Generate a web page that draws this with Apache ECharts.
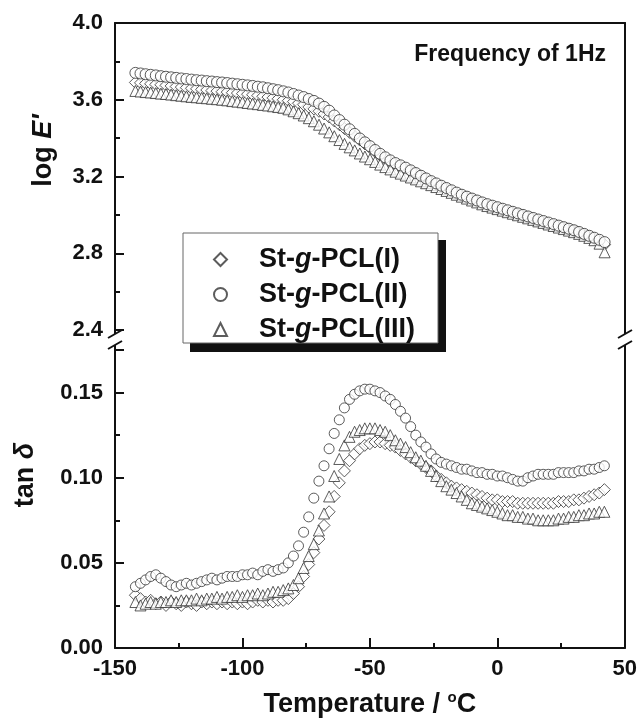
<!DOCTYPE html>
<html>
<head>
<meta charset="utf-8">
<script src="https://cdn.jsdelivr.net/npm/echarts@6/dist/echarts.min.js"></script>
<style>
html, body { margin: 0; padding: 0; background: #fff; }
#chart { width: 640px; height: 720px; }
</style>
</head>
<body>
<div id="chart"></div>
<script>
// temperature (°C), shared by every series
const temps = [
  -142, -140, -138, -136, -134, -132, -130, -128, -126, -124,
  -122, -120, -118, -116, -114, -112, -110, -108, -106, -104,
  -102, -100, -98, -96, -94, -92, -90, -88, -86, -84,
  -82, -80, -78, -76, -74, -72, -70, -68, -66, -64,
  -62, -60, -58, -56, -54, -52, -50, -48, -46, -44,
  -42, -40, -38, -36, -34, -32, -30, -28, -26, -24,
  -22, -20, -18, -16, -14, -12, -10, -8, -6, -4,
  -2, 0, 2, 4, 6, 8, 10, 12, 14, 16,
  18, 20, 22, 24, 26, 28, 30, 32, 34, 36,
  38, 40, 42
]

const names = ['St-g-PCL(I)', 'St-g-PCL(II)', 'St-g-PCL(III)']

// log E'
const logE1 = [
  3.690, 3.688, 3.685, 3.683, 3.680, 3.678, 3.675, 3.672, 3.669, 3.666,
  3.663, 3.660, 3.657, 3.654, 3.651, 3.648, 3.645, 3.642, 3.640, 3.637,
  3.635, 3.632, 3.629, 3.626, 3.622, 3.618, 3.614, 3.610, 3.605, 3.600,
  3.595, 3.590, 3.582, 3.574, 3.562, 3.552, 3.540, 3.526, 3.510, 3.490,
  3.470, 3.450, 3.430, 3.410, 3.390, 3.370, 3.350, 3.330, 3.310, 3.292,
  3.276, 3.262, 3.250, 3.238, 3.226, 3.213, 3.199, 3.185, 3.171, 3.159,
  3.147, 3.135, 3.123, 3.111, 3.100, 3.090, 3.080, 3.070, 3.060, 3.051,
  3.043, 3.035, 3.027, 3.019, 3.011, 3.003, 2.995, 2.987, 2.979, 2.971,
  2.963, 2.955, 2.947, 2.939, 2.931, 2.923, 2.915, 2.906, 2.896, 2.886,
  2.876, 2.864, 2.845
]
const logE2 = [
  3.740, 3.737, 3.733, 3.730, 3.727, 3.723, 3.720, 3.717, 3.714, 3.711,
  3.708, 3.705, 3.702, 3.700, 3.697, 3.695, 3.692, 3.690, 3.687, 3.684,
  3.681, 3.678, 3.675, 3.672, 3.668, 3.665, 3.660, 3.655, 3.650, 3.644,
  3.638, 3.630, 3.622, 3.614, 3.604, 3.594, 3.580, 3.563, 3.543, 3.518,
  3.494, 3.470, 3.446, 3.422, 3.398, 3.378, 3.358, 3.338, 3.318, 3.300,
  3.284, 3.270, 3.258, 3.246, 3.232, 3.218, 3.204, 3.190, 3.176, 3.164,
  3.152, 3.140, 3.128, 3.116, 3.105, 3.095, 3.085, 3.075, 3.065, 3.056,
  3.048, 3.040, 3.032, 3.024, 3.016, 3.008, 3.000, 2.992, 2.984, 2.976,
  2.968, 2.960, 2.952, 2.944, 2.936, 2.928, 2.920, 2.911, 2.901, 2.891,
  2.881, 2.870, 2.858
]
const logE3 = [
  3.646, 3.643, 3.640, 3.638, 3.635, 3.632, 3.630, 3.627, 3.624, 3.621,
  3.618, 3.615, 3.613, 3.610, 3.608, 3.605, 3.603, 3.600, 3.597, 3.593,
  3.590, 3.587, 3.583, 3.580, 3.577, 3.573, 3.570, 3.566, 3.562, 3.558,
  3.550, 3.540, 3.530, 3.518, 3.504, 3.488, 3.470, 3.450, 3.430, 3.410,
  3.390, 3.370, 3.352, 3.336, 3.320, 3.304, 3.290, 3.276, 3.262, 3.249,
  3.237, 3.225, 3.215, 3.205, 3.195, 3.185, 3.175, 3.165, 3.155, 3.145,
  3.135, 3.125, 3.115, 3.105, 3.095, 3.085, 3.075, 3.065, 3.055, 3.046,
  3.038, 3.030, 3.022, 3.014, 3.006, 2.998, 2.990, 2.982, 2.974, 2.966,
  2.958, 2.950, 2.942, 2.934, 2.926, 2.918, 2.910, 2.901, 2.891, 2.880,
  2.868, 2.850, 2.805
]

// tan delta
const tan1 = [
  0.031, 0.029, 0.027, 0.028, 0.026, 0.027, 0.025, 0.027, 0.026, 0.025,
  0.027, 0.026, 0.025, 0.027, 0.026, 0.027, 0.026, 0.027, 0.026, 0.027,
  0.026, 0.027, 0.026, 0.027, 0.028, 0.027, 0.028, 0.027, 0.028, 0.028,
  0.029, 0.032, 0.036, 0.042, 0.049, 0.056, 0.064, 0.072, 0.080, 0.089,
  0.097, 0.104, 0.110, 0.114, 0.117, 0.119, 0.120, 0.121, 0.121, 0.120,
  0.119, 0.118, 0.116, 0.114, 0.112, 0.110, 0.108, 0.106, 0.104, 0.101,
  0.099, 0.097, 0.095, 0.094, 0.093, 0.092, 0.091, 0.090, 0.089, 0.088,
  0.087, 0.087, 0.086, 0.086, 0.086, 0.085, 0.085, 0.085, 0.085, 0.085,
  0.085, 0.085, 0.085, 0.086, 0.086, 0.086, 0.087, 0.087, 0.088, 0.089,
  0.090, 0.091, 0.093
]
const tan2 = [
  0.036, 0.038, 0.040, 0.042, 0.043, 0.041, 0.039, 0.037, 0.036, 0.037,
  0.038, 0.037, 0.038, 0.039, 0.040, 0.041, 0.040, 0.041, 0.042, 0.042,
  0.042, 0.043, 0.043, 0.044, 0.043, 0.045, 0.046, 0.045, 0.046, 0.047,
  0.050, 0.054, 0.060, 0.068, 0.077, 0.088, 0.098, 0.107, 0.117, 0.126,
  0.134, 0.141, 0.146, 0.149, 0.151, 0.152, 0.152, 0.151, 0.150, 0.148,
  0.146, 0.143, 0.139, 0.135, 0.130, 0.125, 0.121, 0.118, 0.114, 0.111,
  0.109, 0.108, 0.107, 0.106, 0.105, 0.105, 0.104, 0.103, 0.103, 0.102,
  0.102, 0.101, 0.101, 0.100, 0.099, 0.098, 0.098, 0.100, 0.101, 0.102,
  0.102, 0.102, 0.102, 0.103, 0.103, 0.103, 0.103, 0.104, 0.104, 0.105,
  0.105, 0.106, 0.107
]
const tan3 = [
  0.027, 0.025, 0.026, 0.027, 0.026, 0.027, 0.027, 0.028, 0.027, 0.028,
  0.028, 0.028, 0.029, 0.028, 0.029, 0.029, 0.030, 0.029, 0.030, 0.030,
  0.031, 0.030, 0.031, 0.031, 0.032, 0.031, 0.032, 0.033, 0.033, 0.034,
  0.035, 0.037, 0.041, 0.047, 0.054, 0.061, 0.069, 0.079, 0.089, 0.101,
  0.111, 0.119, 0.124, 0.127, 0.128, 0.129, 0.129, 0.129, 0.128, 0.127,
  0.125, 0.122, 0.120, 0.118, 0.115, 0.112, 0.110, 0.107, 0.104, 0.101,
  0.098, 0.095, 0.093, 0.091, 0.089, 0.087, 0.085, 0.084, 0.083, 0.082,
  0.081, 0.080, 0.079, 0.078, 0.078, 0.077, 0.077, 0.076, 0.076, 0.075,
  0.075, 0.075, 0.075, 0.076, 0.076, 0.077, 0.077, 0.078, 0.078, 0.079,
  0.079, 0.080, 0.080
]

const FONT = 'Liberation Sans'
const INK = '#111'

function pairs (ys) {
  return temps.map((t, i) => [t, ys[i]])
}

function marks (name, symbol, size, xi, yi, ys) {
  return {
    name: name,
    type: 'scatter',
    xAxisIndex: xi,
    yAxisIndex: yi,
    symbol: symbol,
    symbolSize: size,
    itemStyle: { color: '#fff', borderColor: '#333', borderWidth: 1 },
    emphasis: { disabled: true },
    data: pairs(ys)
  }
}

const lineStyle = { color: INK, width: 2 }
const frame = { show: true, onZero: false, lineStyle: lineStyle }
const labelStyle = { color: INK, fontSize: 22, fontWeight: 'bold', fontFamily: FONT }
const nameRich = {
  a: { fontSize: 27, fontWeight: 'bold', fontFamily: FONT, color: INK },
  i: { fontSize: 27, fontWeight: 'bold', fontStyle: 'italic', fontFamily: FONT, color: INK },
  s: { fontSize: 15, fontWeight: 'bold', fontFamily: FONT, color: INK, padding: [0, 0, 14, 0] }
}

// frame lines and the axis-break slashes between the two panels
function breakAt (x) {
  return [
    { type: 'line', shape: { x1: x, y1: 329, x2: x, y2: 334 }, style: { stroke: INK, lineWidth: 2 } },
    { type: 'line', shape: { x1: x, y1: 345, x2: x, y2: 351 }, style: { stroke: INK, lineWidth: 2 } },
    { type: 'line', shape: { x1: x - 7, y1: 338, x2: x + 7, y2: 330 }, style: { stroke: INK, lineWidth: 2 } },
    { type: 'line', shape: { x1: x - 7, y1: 349, x2: x + 7, y2: 341 }, style: { stroke: INK, lineWidth: 2 } }
  ]
}

const chart = echarts.init(document.getElementById('chart'))
chart.setOption({
  backgroundColor: '#fff',
  animation: false,
  textStyle: { fontFamily: FONT },
  title: {
    text: 'Frequency of 1Hz',
    right: 29,
    top: 38,
    textStyle: { fontSize: 23, fontWeight: 'bold', fontFamily: FONT, color: INK }
  },
  legend: {
    data: names,
    orient: 'vertical',
    left: 208,
    top: 237,
    itemWidth: 13,
    itemHeight: 13,
    itemGap: 0,
    z: 10,
    selectedMode: false,
    formatter: function (name) {
      const p = name.split('-g-')
      return '{sp| }{n|' + p[0] + '-}{i|g}{n|-' + p[1] + '}'
    },
    textStyle: {
      lineHeight: 35,
      rich: {
        sp: { width: 27 },
        n: { fontSize: 27, fontWeight: 'bold', fontFamily: FONT, color: INK, lineHeight: 35 },
        i: { fontSize: 27, fontWeight: 'bold', fontStyle: 'italic', fontFamily: FONT, color: INK, lineHeight: 35 }
      }
    }
  },
  grid: [
    { left: 115, right: 15, top: 23, height: 307 },
    { left: 115, right: 15, top: 350, height: 298 }
  ],
  xAxis: [
    {
      gridIndex: 0, type: 'value', min: -150, max: 50, interval: 50, position: 'top',
      axisLine: frame, axisTick: { show: false }, axisLabel: { show: false },
      splitLine: { show: false }
    },
    {
      gridIndex: 1, type: 'value', min: -150, max: 50, interval: 50, position: 'bottom',
      axisLine: frame,
      axisTick: { inside: true, length: 10, lineStyle: lineStyle },
      minorTick: { show: true, splitNumber: 2, length: 5, lineStyle: lineStyle },
      axisLabel: Object.assign({ margin: 10 }, labelStyle),
      splitLine: { show: false },
      name: '{a|Temperature / }{s|o}{a|C}',
      nameLocation: 'middle',
      nameGap: 42,
      nameTextStyle: { rich: nameRich }
    }
  ],
  yAxis: [
    {
      gridIndex: 0, type: 'value', min: 2.4, max: 4.0, interval: 0.4, position: 'left',
      axisLine: frame,
      axisTick: { inside: true, length: 9, lineStyle: lineStyle },
      minorTick: { show: true, splitNumber: 2, length: 5, lineStyle: lineStyle },
      axisLabel: Object.assign({ margin: 12, formatter: v => v.toFixed(1) }, labelStyle),
      splitLine: { show: false },
      name: "{a|log }{i|E'}",
      nameLocation: 'middle',
      nameGap: 58,
      nameTextStyle: { rich: nameRich, padding: [0, 0, 0, 52] }
    },
    {
      gridIndex: 0, type: 'value', min: 2.4, max: 4.0, position: 'right',
      axisLine: frame, axisTick: { show: false },
      axisLabel: { show: false }, splitLine: { show: false }
    },
    {
      gridIndex: 1, type: 'value', min: 0, max: 0.175, interval: 0.05, position: 'left',
      axisLine: frame,
      axisTick: { inside: true, length: 9, lineStyle: lineStyle },
      minorTick: { show: true, splitNumber: 2, length: 5, lineStyle: lineStyle },
      axisLabel: Object.assign({ margin: 12, formatter: v => (v > 0.16 ? '' : v.toFixed(2)) }, labelStyle),
      splitLine: { show: false },
      name: '{a|tan }{i|δ}',
      nameLocation: 'middle',
      nameGap: 76,
      nameTextStyle: { rich: nameRich, padding: [0, 0, 0, 48] }
    },
    {
      gridIndex: 1, type: 'value', min: 0, max: 0.175, position: 'right',
      axisLine: frame, axisTick: { show: false },
      axisLabel: { show: false }, splitLine: { show: false }
    }
  ],
  graphic: [
    { type: 'rect', z: 3, shape: { x: 190, y: 240, width: 256, height: 112 }, style: { fill: '#111' } },
    { type: 'rect', z: 4, shape: { x: 183, y: 233, width: 255, height: 110 }, style: { fill: '#fff', stroke: '#666', lineWidth: 1 } }
  ].concat(breakAt(115), breakAt(625)),
  series: [
    marks(names[0], 'diamond', 12, 0, 0, logE1),
    marks(names[2], 'triangle', 11, 0, 0, logE3),
    marks(names[1], 'circle', 11, 0, 0, logE2),
    marks(names[0], 'diamond', 12, 1, 2, tan1),
    marks(names[2], 'triangle', 11, 1, 2, tan3),
    marks(names[1], 'circle', 10, 1, 2, tan2)
  ]
})
</script>
</body>
</html>
